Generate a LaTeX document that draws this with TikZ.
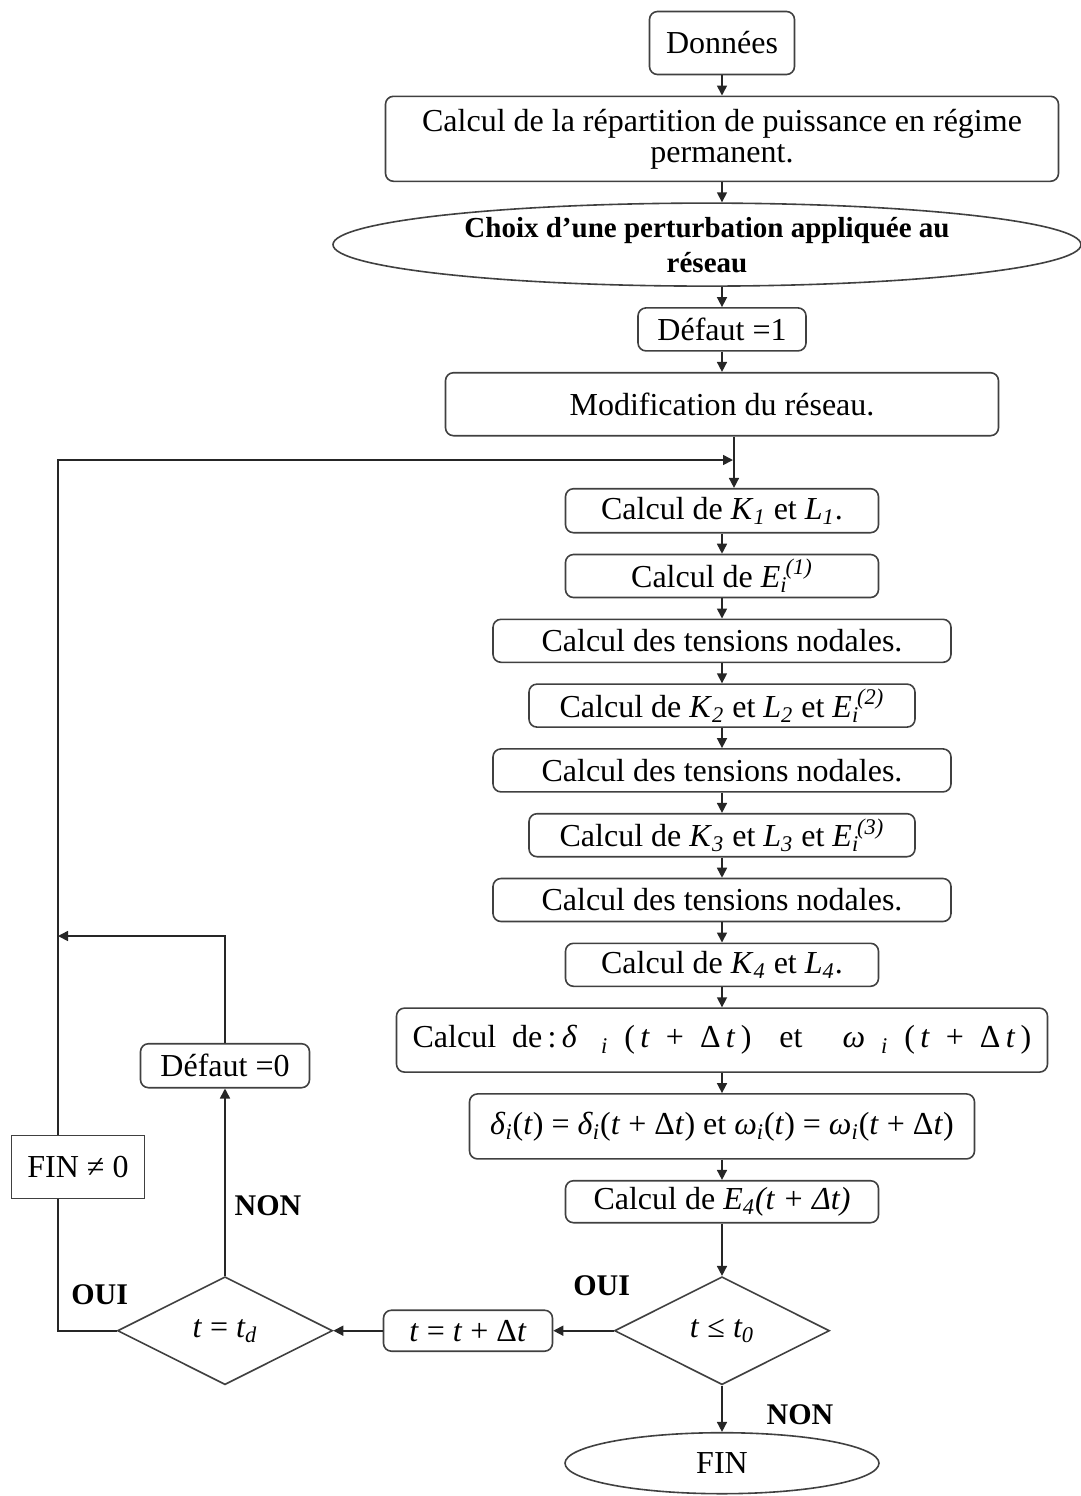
\documentclass[tikz,border=0pt]{standalone}
\usepackage{fontspec}
\setmainfont{Liberation Serif}
\usetikzlibrary{positioning,arrows.meta,shapes.geometric,calc}
\newcommand{\Ksub}[1]{\textit{K}\textsubscript{\textit{#1}}}
\newcommand{\Lsub}[1]{\textit{L}\textsubscript{\textit{#1}}}
\newcommand{\Eit}[1]{\textit{E}\textsubscript{\textit{i}}\kern-1pt\textsuperscript{\textit{(#1)}}}

\begin{document}
\begin{tikzpicture}[
    x=0.5pt, y=-0.5pt,
    font=\fontsize{16}{16}\selectfont,
    box/.style={draw=black!75, line width=0.8pt, rounded corners=4pt, align=center, inner xsep=2pt, inner ysep=0pt, fill=white},
    sqbox/.style={box, rounded corners=0pt},
    oval/.style={ellipse, draw=black!75, line width=0.8pt, align=center, inner sep=0pt, fill=white},
    decision/.style={diamond, draw=black!75, line width=0.8pt, inner sep=0pt, aspect=2, minimum width=107.5pt, minimum height=54pt, fill=white},
    lbl/.style={font=\fontsize{15}{15}\selectfont\bfseries},
    arr/.style={-{Triangle[length=5pt,width=5pt]}, line width=0.8pt, black!85},
    conn/.style={line width=0.8pt, black!85},
    node distance=10.1pt
]
\useasboundingbox (0,0) rectangle (1081,1496);

\node[box, minimum width=72.5pt, minimum height=31.5pt] (donnees) at (722,43) {Données};
\node[box, minimum width=336.5pt, minimum height=42.5pt, below=of donnees, font=\fontsize{16}{15.5}\selectfont] (repart) {Calcul de la répartition de puissance en régime\\permanent.};
\node[oval, minimum width=374pt, minimum height=41.5pt, below=of repart, xshift=-7.5pt, font=\fontsize{14.5}{17.5}\selectfont\bfseries] (choix) {Choix d'une perturbation appliquée au\\réseau};
\node[box, minimum width=84pt, minimum height=21.5pt, below=of choix, xshift=7.5pt] (def1) {Défaut =1};
\node[box, minimum width=276.5pt, minimum height=31.5pt, below=of def1] (modif) {Modification du réseau.};

\node[box, minimum width=156.5pt, minimum height=22pt, below=25.7pt of modif] (k1) {Calcul de \Ksub{1} et \Lsub{1}.};
\node[box, minimum width=156.5pt, minimum height=21.5pt, below=of k1] (e1) {Calcul de \Eit{1}};
\node[box, minimum width=229pt, minimum height=21.5pt, below=of e1] (ten1) {Calcul des tensions nodales.};
\node[box, minimum width=193pt, minimum height=21.5pt, below=of ten1] (k2) {Calcul de \Ksub{2} et \Lsub{2} et \Eit{2}};
\node[box, minimum width=229pt, minimum height=21.5pt, below=of k2] (ten2) {Calcul des tensions nodales.};
\node[box, minimum width=193pt, minimum height=21.5pt, below=of ten2] (k3) {Calcul de \Ksub{3} et \Lsub{3} et \Eit{3}};
\node[box, minimum width=229pt, minimum height=21.5pt, below=of k3] (ten3) {Calcul des tensions nodales.};
\node[box, minimum width=156.5pt, minimum height=21.5pt, below=of ten3] (k4) {Calcul de \Ksub{4} et \Lsub{4}.};
\node[box, minimum width=325.5pt, minimum height=32pt, below=of k4] (dcalc) {Calcul\ \ de\,:\,\textit{δ}\hspace{12pt}\textsubscript{\textit{i}}\hspace{8pt}(\,\textit{t}\ \ +\ \ Δ\,\textit{t}\,)\hspace{14pt}et\hspace{20pt}\textit{ω}\hspace{8pt}\textsubscript{\textit{i}}\hspace{8pt}(\,\textit{t}\ \ +\ \ Δ\,\textit{t}\,)};
\node[box, minimum width=252.5pt, minimum height=32.5pt, below=of dcalc] (deq) {\textit{δ}\textsubscript{\textit{i}}(\textit{t}) = \textit{δ}\textsubscript{\textit{i}}(\textit{t} + Δ\textit{t}) et \textit{ω}\textsubscript{\textit{i}}(\textit{t}) = \textit{ω}\textsubscript{\textit{i}}(\textit{t} + Δ\textit{t})};
\node[box, minimum width=156.5pt, minimum height=21pt, below=of deq] (e4) {Calcul de \textit{E\textsubscript{4}(t + Δt)}};

\node[decision, below=26.2pt of e4] (tle) {\textit{t} ≤ \textit{t\textsubscript{0}}};
\node[oval, minimum width=157pt, minimum height=30.5pt, below=23.2pt of tle] (fin) {FIN};
\node[box, minimum width=84.5pt, minimum height=20.5pt, left=30.2pt of tle] (tinc) {\textit{t} = \textit{t} + Δ\textit{t}};
\node[decision, left=24.7pt of tinc] (td) {\textit{t} = \textit{t\textsubscript{d}}};
\node[box, minimum width=84.5pt, minimum height=22pt, above=93.7pt of td] (def0) {Défaut =0};
\node[sqbox, minimum width=66.5pt, minimum height=31.5pt] (finne) at (78,1167) {FIN ≠ 0};

\coordinate (join) at (733,460);
\coordinate (ret) at (58,936);

\draw[arr] (donnees) -- (repart);
\draw[arr] (repart.south) -- (repart.south |- choix.north);
\draw[arr] (choix.south -| def1.north) -- (def1);
\draw[arr] (def1) -- (modif);
\draw[arr] ([xshift=6pt]modif.south) -- ([xshift=6pt]k1.north);
\draw[arr] (k1) -- (e1);
\draw[arr] (e1) -- (ten1);
\draw[arr] (ten1) -- (k2);
\draw[arr] (k2) -- (ten2);
\draw[arr] (ten2) -- (k3);
\draw[arr] (k3) -- (ten3);
\draw[arr] (ten3) -- (k4);
\draw[arr] (k4) -- (dcalc);
\draw[arr] (dcalc) -- (deq);
\draw[arr] (deq) -- (e4);
\draw[arr] (e4) -- (tle);
\draw[arr] (tle) -- (fin);
\draw[arr] (tle) -- (tinc);
\draw[arr] (tinc) -- (td);
\draw[arr] (td) -- (def0);
\draw[arr] (def0) |- (ret);
\draw[conn] (td.west) -| ([xshift=-10pt]finne.south);
\draw[arr] ([xshift=-10pt]finne.north) |- (join);

\node[lbl] (oui1) at ($(td.west)+(-17,-36)$) {OUI};
\node[lbl] (non1) at ($(td.north)+(43,-70)$) {NON};
\node[lbl] (oui2) at ($(tle.west)+(-12,-45)$) {OUI};
\node[lbl] (non2) at ($(tle.south)+(78,29)$) {NON};
\end{tikzpicture}
\end{document}
